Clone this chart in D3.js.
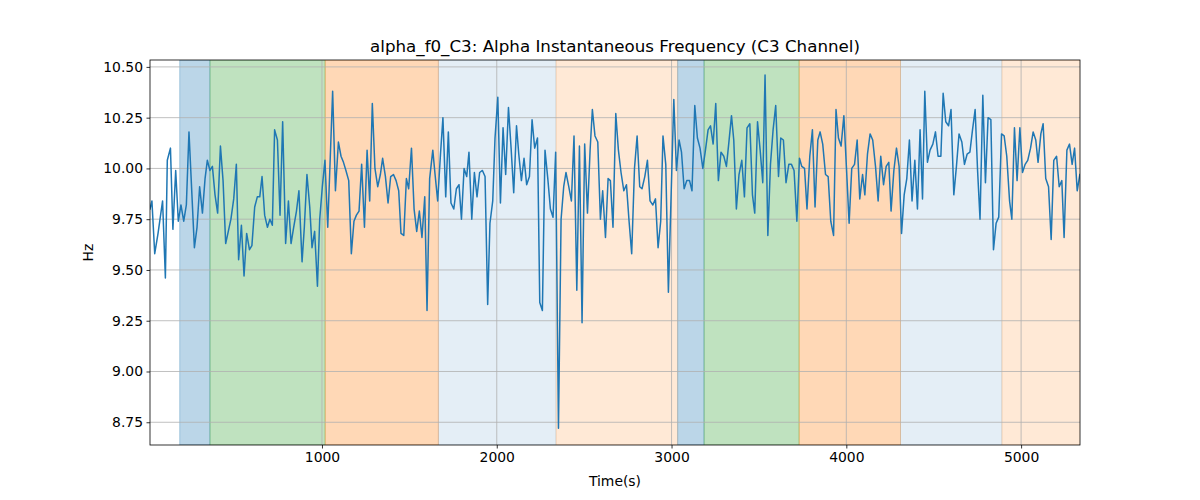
<!DOCTYPE html>
<html><head><meta charset="utf-8">
<script src="https://cdn.jsdelivr.net/npm/d3@7"></script>
<style>body{margin:0;background:#fff;} svg{display:block;} text{font-family:"DejaVu Sans",sans-serif;fill:#000;}</style>
</head><body>
<svg id="chart" width="1200" height="500"></svg>
<script>
// Time (s) of each sample
const times = [16,27,43,62,88,104,115,133,147,163,178,193,209,224,239,270,285,300,316,331,344,359,373,388,403,419,434,449,464,479,495,510,523,539,554,569,585,599,615,630,644,
657,672,688,702,716,729,745,760,775,792,808,823,838,854,868,
886,899,914,930,943,958,974,987,1002,1017,1033,1061,1077,1094,1109,1123,1137,1153,1168,1183,1197,1212,1227,1243,1258,1273,1288,1303,1319,1334,1347,1363,1378,1393,1409,1424,1439,1452,1468,1483,1496,1512,1527,1542,1557,1572,1588,1601,1616,1634,1647,1662,1678,1692,1708,1723,1738,1754,1769,1784,
1798,1813,1828,1841,1857,1872,1887,1902,1918,1933,1948,1961,1977,1990,2006,2021,2036,2051,2067,2082,2097,2113,2126,2141,2156,2171,2187,2202,2217,2233,2246,2261,2276,2292,2307,2322,2337,2353,2368,2383,2396,2412,2427,2442,2458,2473,2488,2503,2519,2534,2547,2562,2578,2593,2606,2622,2637,2650,2665,
2681,2696,2711,2727,2742,2757,2772,2788,2803,2818,2831,2847,2862,2877,2893,2908,2923,2938,2951,2967,2982,3013,3028,3043,3057,3072,3087,3103,3117,3133,3148,3163,3179,3194,3209,3223,3238,3253,3268,3283,3299,3314,3327,3343,3356,3371,3386,3402,3417,3432,3448,3463,3476,3492,3507,3522,3535,3551,
3566,3581,3596,3612,3625,3640,3655,3671,3686,3701,3717,3732,3745,3761,3775,3791,3806,3821,3837,3850,3865,3881,3896,3911,3927,3941,3955,3970,3986,4001,4016,4031,4047,4062,4077,4093,4106,4121,4136,4151,4167,4182,4197,4213,4228,4243,4256,4272,4287,4302,4316,4331,4346,4361,4376,4392,4407,4422,
4436,4449,4464,4479,4495,4510,4525,4541,4554,4569,4585,4599,4615,4630,4645,4661,4676,4691,4707,4722,4737,4751,4765,4781,4796,4811,4827,4842,4857,4872,4888,4903,4918,4934,4947,4962,4977,4993,5008,5023,5038,5054,5069,5084,5097,5113,5126,5141,5157,5172,5187,5203,5218,5233,5246,5262,5277,5292,5306,5321,5336];
// Alpha instantaneous frequency (Hz)
const freqs = [9.80,9.84,9.58,9.68,9.84,9.46,10.04,10.10,9.70,9.99,9.74,9.82,9.74,9.82,10.18,9.61,9.71,9.91,9.78,9.95,10.04,9.99,10.01,9.87,9.78,10.11,9.94,9.63,9.69,9.75,9.85,10.02,9.55,9.72,9.47,9.68,9.60,9.62,9.81,9.86,9.86,
9.96,9.77,9.71,9.75,9.72,10.19,10.14,9.77,10.23,9.63,9.84,9.63,9.71,9.79,9.89,
9.54,9.71,9.97,9.81,9.61,9.69,9.42,9.75,9.91,10.04,9.71,10.38,9.89,10.13,10.06,10.03,9.99,9.94,9.58,9.74,9.77,9.79,10.02,9.71,10.09,9.84,10.32,10.00,9.91,9.97,10.05,9.96,9.83,9.96,9.97,9.94,9.89,9.68,9.67,9.95,9.90,10.10,9.80,9.69,9.79,9.66,9.86,9.30,9.95,10.09,9.97,9.84,10.07,10.25,9.86,10.18,9.83,9.80,9.90,9.92,
9.75,10.00,9.96,10.08,9.75,9.98,9.86,9.98,9.99,9.96,9.33,9.73,9.84,10.15,10.35,9.83,10.20,9.97,10.30,10.10,9.88,10.21,10.07,9.94,10.05,9.92,9.96,10.24,10.10,10.15,9.34,9.30,10.09,9.95,9.80,9.76,10.08,8.72,9.75,9.91,9.98,9.91,9.84,10.16,9.40,10.11,9.24,10.12,9.78,10.09,10.29,10.16,10.13,9.75,9.89,9.66,9.95,9.94,9.71,
10.27,10.09,9.98,9.89,9.92,9.74,9.58,10.00,10.16,9.91,9.90,9.96,10.04,9.84,9.82,9.85,9.61,9.74,10.16,10.02,9.39,10.34,9.99,10.14,10.08,9.90,9.94,9.94,9.89,10.31,10.15,10.10,10.00,10.09,10.19,10.21,10.12,10.32,9.94,10.08,10.06,10.01,10.12,10.26,10.14,9.80,9.97,10.04,9.86,10.20,10.22,9.87,9.78,10.23,10.09,9.93,10.46,9.67,
10.02,10.19,10.31,9.96,10.15,10.14,9.93,10.02,10.02,9.99,9.74,10.05,10.01,10.00,9.80,10.06,10.19,9.81,10.14,10.18,10.12,9.97,9.96,9.74,9.67,10.29,10.15,10.11,10.26,10.00,9.73,10.00,10.02,10.14,9.85,9.97,9.87,10.07,10.17,10.14,10.01,9.84,10.06,9.92,10.01,10.03,9.79,9.99,10.10,10.01,9.68,9.87,9.95,10.14,9.84,10.04,9.80,10.19,
9.85,10.38,10.03,10.09,10.12,10.18,10.06,10.06,10.37,10.23,10.21,10.29,9.87,10.01,10.17,10.13,10.02,10.07,10.08,10.19,10.29,9.99,9.75,10.36,9.93,10.25,10.24,9.60,9.73,9.76,10.17,10.16,10.06,9.84,9.75,10.20,9.94,10.20,9.98,10.02,10.04,10.10,10.18,10.14,10.03,10.17,10.22,9.95,9.91,9.65,10.04,10.06,9.91,9.94,9.66,10.09,10.12,10.02,10.10,9.89,9.97];
// Background stage bands
const bandStart = [186,359,1018,1666,2339,3035,3186,3730,4310,4890];
const bandEnd   = [359,1018,1666,2339,3035,3186,3730,4310,4890,5400];
const bandColor = ["#1f77b4","#2ca02c","#ff7f0e","#1f77b4","#ff7f0e","#1f77b4","#2ca02c","#ff7f0e","#1f77b4","#ff7f0e"];
const bandAlpha = [0.3,0.3,0.3,0.12,0.17,0.3,0.3,0.3,0.12,0.17];
const xTicks = [1000,2000,3000,4000,5000];
const yTicks = [8.75,9.00,9.25,9.50,9.75,10.00,10.25,10.50];

const svg = d3.select("#chart");
const m = {l:150, r:1080, t:60, b:445};
const x = d3.scaleLinear().domain([16,5337]).range([m.l,m.r]);
const y = d3.scaleLinear().domain([8.638,10.534]).range([m.b,m.t]);

svg.append("defs").append("clipPath").attr("id","clip").append("rect")
  .attr("x",m.l).attr("y",m.t).attr("width",m.r-m.l).attr("height",m.b-m.t);

const bands = bandStart.map((s,i)=>({s, e:bandEnd[i], c:bandColor[i], a:bandAlpha[i]}));
const gb = svg.append("g").attr("clip-path","url(#clip)");
gb.selectAll("rect").data(bands).join("rect")
  .attr("x",d=>x(d.s)).attr("width",d=>x(d.e)-x(d.s))
  .attr("y",m.t).attr("height",m.b-m.t)
  .attr("fill",d=>d.c).attr("fill-opacity",d=>d.a)
  .attr("stroke",d=>d.c).attr("stroke-opacity",d=>d.a).attr("stroke-width",1);

// grid
const gg = svg.append("g");
gg.selectAll("line.gx").data(xTicks).join("line").attr("class","gx")
  .attr("x1",d=>x(d)).attr("x2",d=>x(d)).attr("y1",m.t).attr("y2",m.b)
  .attr("stroke","#b0b0b0").attr("stroke-width",0.8);
gg.selectAll("line.gy").data(yTicks).join("line").attr("class","gy")
  .attr("y1",d=>y(d)).attr("y2",d=>y(d)).attr("x1",m.l).attr("x2",m.r)
  .attr("stroke","#b0b0b0").attr("stroke-width",0.8);

// line
const pts = times.map((t,i)=>[t,freqs[i]]);
svg.append("path").datum(pts).attr("clip-path","url(#clip)")
  .attr("fill","none").attr("stroke","#1f77b4").attr("stroke-width",1.5)
  .attr("stroke-linejoin","round").attr("stroke-linecap","square")
  .attr("d", d3.line().x(d=>x(d[0])).y(d=>y(d[1])));

// axes
const xa = svg.append("g").attr("transform",`translate(0,${m.b})`)
  .call(d3.axisBottom(x).tickValues(xTicks).tickSize(3.5).tickPadding(3.5).tickFormat(d3.format("d")));
const ya = svg.append("g").attr("transform",`translate(${m.l},0)`)
  .call(d3.axisLeft(y).tickValues(yTicks).tickSize(3.5).tickPadding(3.5).tickFormat(d3.format(".2f")));
[xa,ya].forEach(a=>{
  a.select(".domain").remove();
  a.selectAll(".tick line").attr("stroke","#000").attr("stroke-width",0.8);
  a.selectAll(".tick text").attr("font-size","13.9px").attr("font-family","DejaVu Sans").attr("fill","#000");
});
svg.append("rect").attr("x",m.l).attr("y",m.t).attr("width",m.r-m.l).attr("height",m.b-m.t)
  .attr("fill","none").attr("stroke","#000").attr("stroke-width",0.8);

svg.append("text").attr("x",(m.l+m.r)/2).attr("y",52).attr("text-anchor","middle")
  .attr("font-size","16.7px").text("alpha_f0_C3: Alpha Instantaneous Frequency (C3 Channel)");
svg.append("text").attr("x",(m.l+m.r)/2).attr("y",486).attr("text-anchor","middle")
  .attr("font-size","13.9px").text("Time(s)");
svg.append("text").attr("transform",`translate(93,${(m.t+m.b)/2}) rotate(-90)`).attr("text-anchor","middle")
  .attr("font-size","13.9px").text("Hz");
</script>
</body></html>
